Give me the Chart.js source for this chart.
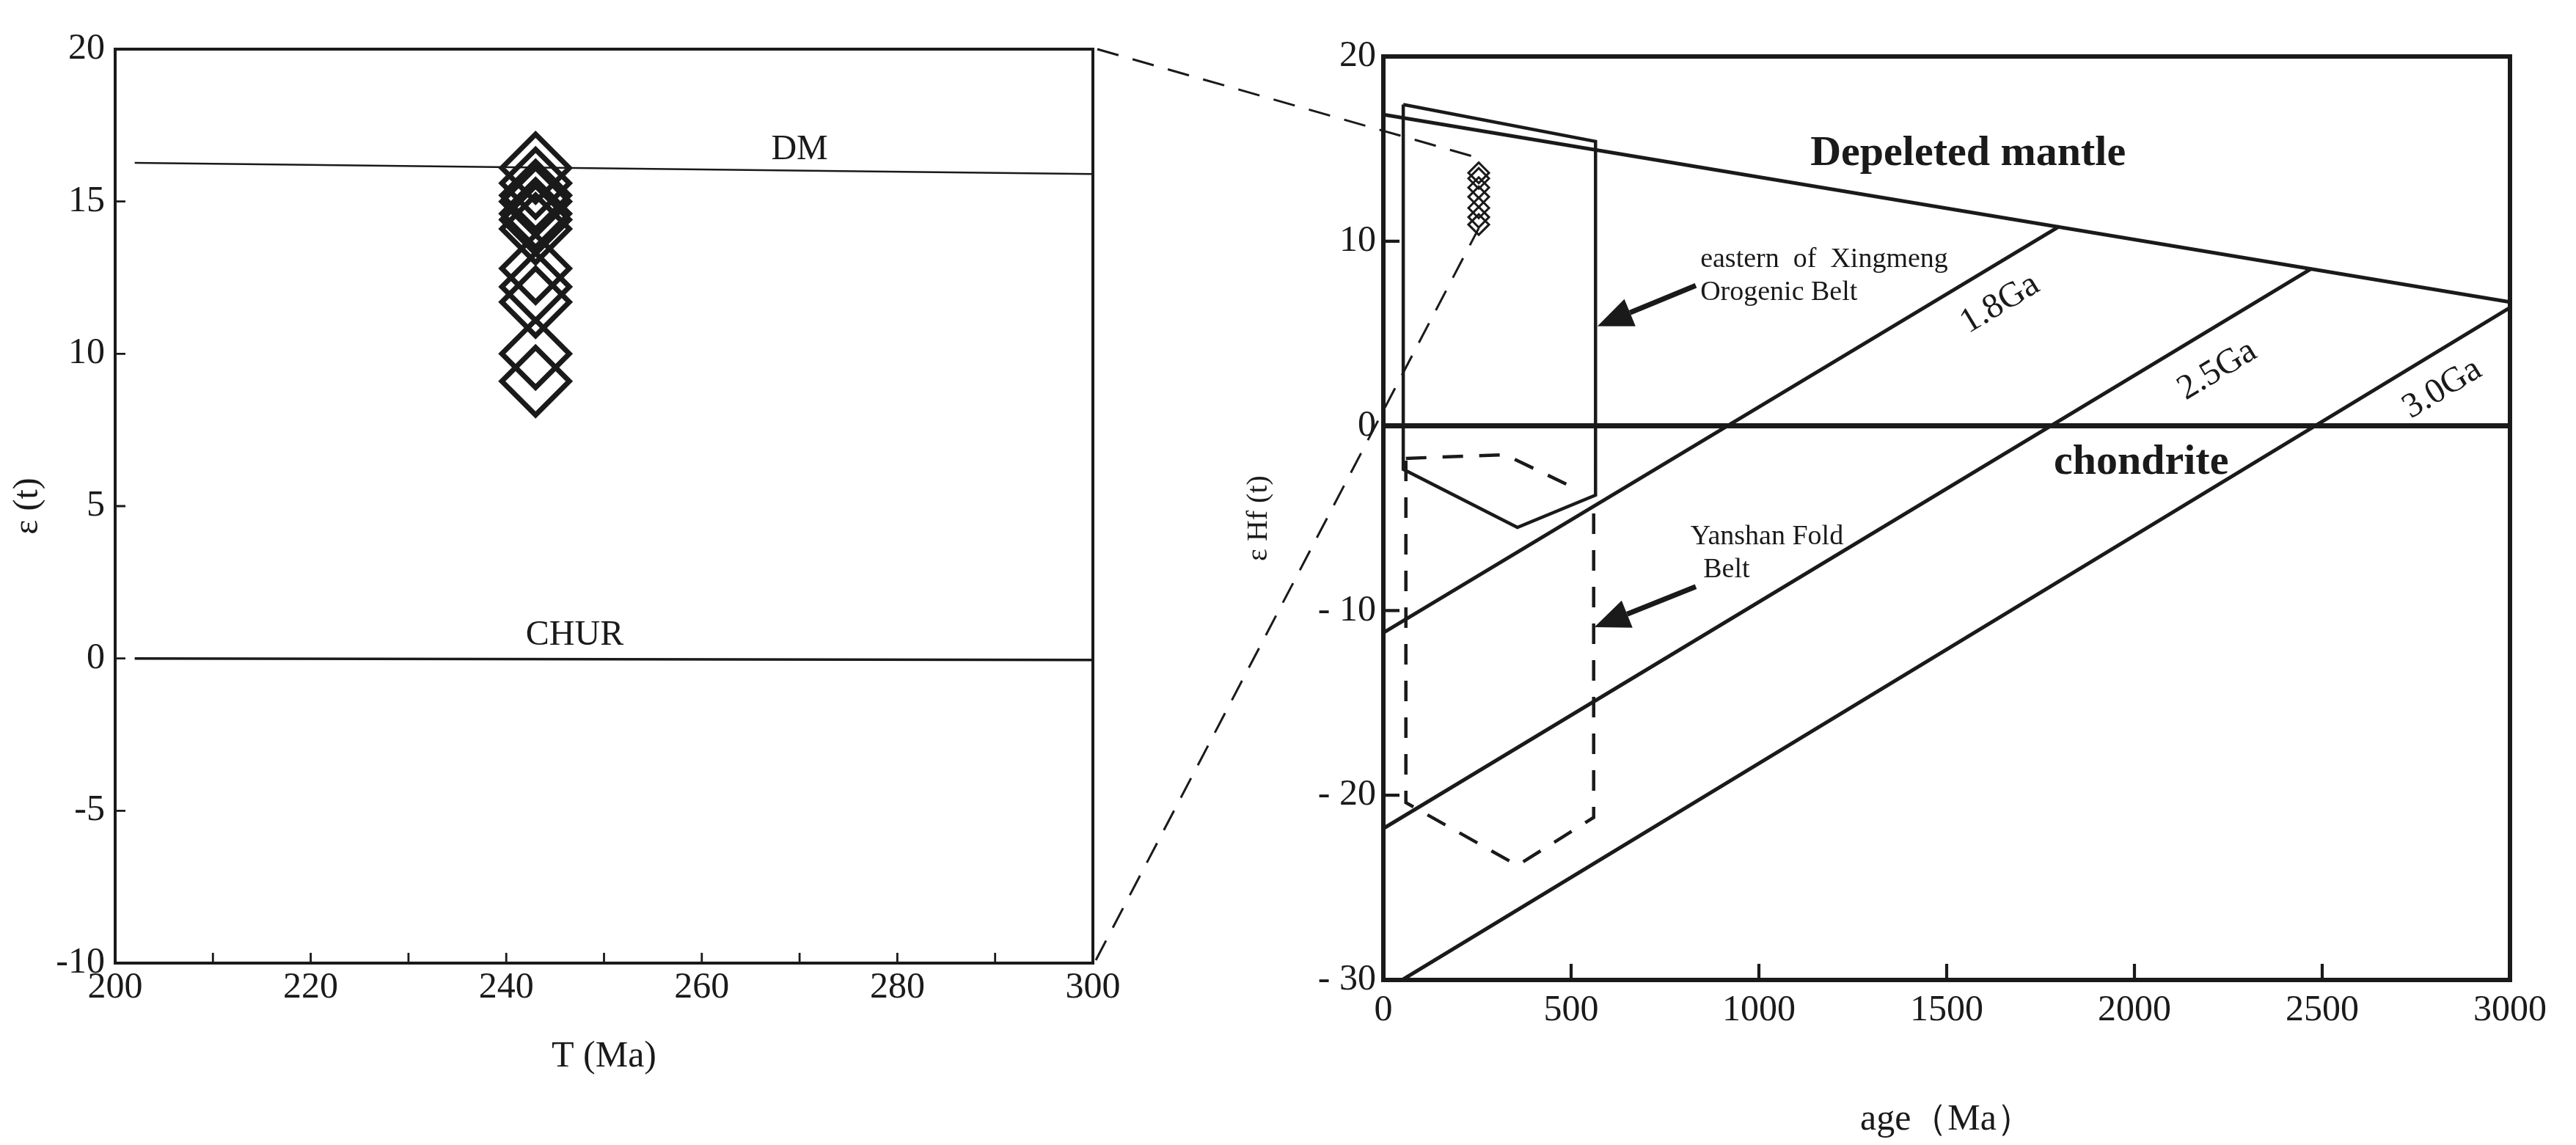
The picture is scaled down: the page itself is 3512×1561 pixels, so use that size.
<!DOCTYPE html>
<html>
<head>
<meta charset="utf-8">
<script src="https://cdn.jsdelivr.net/npm/chart.js@4/dist/chart.umd.min.js"></script>
<style>
  html, body { margin: 0; padding: 0; background: #fff; }
  #page { position: relative; width: 3512px; height: 1561px; overflow: hidden; }
  .box { position: absolute; top: 0; height: 1561px; }
  #overlay { position: absolute; left: 0; top: 0; pointer-events: none; }
</style>
</head>
<body>
<div id="page">
  <div class="box" style="left:0;width:1560px"><canvas id="leftChart"></canvas></div>
  <div class="box" style="left:1680px;width:1832px"><canvas id="rightChart"></canvas></div>
  <canvas id="overlay" width="3512" height="1561"></canvas>
</div>
<script>
// Left panel data: epsilon(t) vs T (Ma)
const leftSampleT = 243;
const leftSampleEps = [16.1, 15.6, 15.2, 15.0, 14.6, 14.4, 14.1, 12.8, 12.2, 11.7, 10.0, 9.1];
const leftDM = [[202, 16.27], [300, 15.9]];
const leftCHUR = [[202, 0], [300, -0.05]];
const leftXTicks = [200, 220, 240, 260, 280, 300];
const leftYTicks = [-10, -5, 0, 5, 10, 15, 20];

// Right panel data: eHf(t) vs age (Ma)
const rightSampleAge = 254;
const rightSampleEps = [13.7, 13.4, 12.9, 12.4, 11.8, 11.3, 10.9];
const depletedMantle = [[0, 16.85], [3000, 6.7]];
const chondrite = [[0, 0], [3000, 0]];
const crust18 = [[0, -11.2], [1800, 10.8]];
const crust25 = [[0, -21.8], [2470, 8.5]];
const crust30 = [[50, -30], [3000, 6.4]];
const xingmengBox = [[53, 17.4], [565, 15.4], [565, -3.75], [357, -5.5], [53, -2.35], [53, 17.4]];
const yanshanBox = [[60, -1.76], [324, -1.56], [487, -3.15], [null, null], [560, -4.74], [560, -21.2], [357, -23.8], [60, -20.4], [60, -1.76]];
const rightXTicks = [0, 500, 1000, 1500, 2000, 2500, 3000];
const rightYTicks = [-30, -20, -10, 0, 10, 20];

const SERIF = '"Liberation Serif", "DejaVu Serif", serif';
const INK = '#1a1a1a';

function pts(arr) { return arr.map(p => ({ x: p[0], y: p[1] })); }

function lineSet(data, width, dash) {
  return {
    type: 'line', data: pts(data), borderColor: INK, borderWidth: width,
    borderDash: dash || [], pointRadius: 0, fill: false, spanGaps: false
  };
}

// frame and inward tick marks
function framePlugin(xMinor, yMinor, tickLen, frameW) {
  return {
    id: 'frame',
    afterDraw(chart) {
      const { ctx, chartArea: a, scales } = chart;
      ctx.save();
      ctx.strokeStyle = INK;
      ctx.lineWidth = frameW;
      ctx.strokeRect(a.left, a.top, a.right - a.left, a.bottom - a.top);
      ctx.beginPath();
      for (let v = scales.x.min; v <= scales.x.max; v += xMinor) {
        const px = scales.x.getPixelForValue(v);
        ctx.moveTo(px, a.bottom); ctx.lineTo(px, a.bottom - tickLen);
      }
      for (let v = scales.y.min; v <= scales.y.max; v += yMinor) {
        const py = scales.y.getPixelForValue(v);
        ctx.moveTo(a.left, py); ctx.lineTo(a.left + tickLen, py);
      }
      ctx.lineWidth = frameW * 0.7;
      ctx.stroke();
      ctx.restore();
    }
  };
}

// text labels in data coordinates
function textPlugin(items) {
  return {
    id: 'texts',
    afterDatasetsDraw(chart) {
      const { ctx, scales } = chart;
      ctx.save();
      ctx.fillStyle = INK;
      items.forEach(t => {
        const x = scales.x.getPixelForValue(t.x);
        const y = scales.y.getPixelForValue(t.y);
        ctx.save();
        ctx.translate(x, y);
        if (t.along) {
          const dx = scales.x.getPixelForValue(t.along[1][0]) - scales.x.getPixelForValue(t.along[0][0]);
          const dy = scales.y.getPixelForValue(t.along[1][1]) - scales.y.getPixelForValue(t.along[0][1]);
          ctx.rotate(Math.atan2(dy, dx));
        }
        ctx.font = t.font;
        ctx.textAlign = t.align || 'center';
        ctx.textBaseline = 'middle';
        ctx.fillText(t.text, 0, 0);
        ctx.restore();
      });
      ctx.restore();
    }
  };
}

function arrowPlugin(arrows) {
  return {
    id: 'arrows',
    afterDatasetsDraw(chart) {
      const { ctx, scales } = chart;
      ctx.save();
      ctx.strokeStyle = INK; ctx.fillStyle = INK; ctx.lineWidth = 7;
      arrows.forEach(a => {
        const x0 = scales.x.getPixelForValue(a[0][0]), y0 = scales.y.getPixelForValue(a[0][1]);
        const x1 = scales.x.getPixelForValue(a[1][0]), y1 = scales.y.getPixelForValue(a[1][1]);
        const ang = Math.atan2(y1 - y0, x1 - x0);
        const hl = 48, hw = 20;
        const bx = x1 - hl * Math.cos(ang), by = y1 - hl * Math.sin(ang);
        ctx.beginPath(); ctx.moveTo(x0, y0); ctx.lineTo(bx, by); ctx.stroke();
        ctx.beginPath();
        ctx.moveTo(x1, y1);
        ctx.lineTo(bx + hw * Math.sin(ang), by - hw * Math.cos(ang));
        ctx.lineTo(bx - hw * Math.sin(ang), by + hw * Math.cos(ang));
        ctx.closePath(); ctx.fill();
      });
      ctx.restore();
    }
  };
}

function axisCommon(min, max, ticksList, fontSize, fmt) {
  return {
    type: 'linear', min: min, max: max,
    afterBuildTicks: s => { s.ticks = ticksList.map(v => ({ value: v })); },
    grid: { display: false, drawTicks: false },
    border: { display: false },
    ticks: { color: INK, font: { family: SERIF, size: fontSize }, callback: fmt || (v => v) }
  };
}

Chart.defaults.animation = false;

// ---- left chart
const lx = axisCommon(200, 300, leftXTicks, 50);
lx.afterFit = s => { s.height = 248; };
lx.ticks.padding = 4;
lx.title = { display: true, text: 'T (Ma)', color: INK, font: { family: SERIF, size: 50 }, padding: { top: 0, bottom: 90 } };
const ly = axisCommon(-10, 20, leftYTicks, 50);
ly.afterFit = s => { s.width = 157; };
ly.ticks.padding = 14;
ly.title = { display: true, text: 'ε (t)', color: INK, font: { family: SERIF, size: 48 }, padding: { top: 10, bottom: 0 } };

const leftChart = new Chart(document.getElementById('leftChart'), {
  type: 'scatter',
  data: {
    datasets: [
      lineSet(leftDM, 2.5),
      lineSet(leftCHUR, 3.5),
      {
        type: 'scatter', data: leftSampleEps.map(v => ({ x: leftSampleT, y: v })),
        pointStyle: 'rectRot', pointRadius: 46, borderWidth: 7,
        borderColor: INK, backgroundColor: 'rgba(0,0,0,0)'
      }
    ]
  },
  options: {
    responsive: true, maintainAspectRatio: false,
    layout: { padding: { top: 67, right: 70, bottom: 0, left: 0 } },
    plugins: { legend: { display: false }, tooltip: { enabled: false } },
    scales: { x: lx, y: ly }
  },
  plugins: [
    framePlugin(10, 5, 14, 4),
    textPlugin([
      { text: 'DM', x: 270, y: 16.7, font: '48px ' + SERIF },
      { text: 'CHUR', x: 247, y: 0.75, font: '48px ' + SERIF }
    ])
  ]
});

// ---- right chart
const rx = axisCommon(0, 3000, rightXTicks, 50);
rx.afterFit = s => { s.height = 225; };
rx.ticks.padding = 12;
rx.title = { display: true, text: 'age（Ma）', color: INK, font: { family: SERIF, size: 50 }, padding: { top: 0, bottom: 4 } };
const ry = axisCommon(-30, 20, rightYTicks, 50, v => (v < 0 ? '- ' + (-v) : v));
ry.afterFit = s => { s.width = 206; };
ry.ticks.padding = 10;
ry.title = { display: true, text: 'ε Hf (t)', color: INK, font: { family: SERIF, size: 40 }, padding: { top: 12, bottom: 0 } };

const rightChart = new Chart(document.getElementById('rightChart'), {
  type: 'scatter',
  data: {
    datasets: [
      lineSet(depletedMantle, 5),
      lineSet(chondrite, 7),
      lineSet(crust18, 5),
      lineSet(crust25, 5),
      lineSet(crust30, 5),
      lineSet(xingmengBox, 4.5),
      lineSet(yanshanBox, 4.5, [28, 22]),
      {
        type: 'scatter', data: rightSampleEps.map(v => ({ x: rightSampleAge, y: v })),
        pointStyle: 'rectRot', pointRadius: 14, borderWidth: 3,
        borderColor: INK, backgroundColor: 'rgba(0,0,0,0)'
      }
    ]
  },
  options: {
    responsive: true, maintainAspectRatio: false,
    layout: { padding: { top: 77, right: 90, bottom: 0, left: 0 } },
    plugins: { legend: { display: false }, tooltip: { enabled: false } },
    scales: { x: rx, y: ry }
  },
  plugins: [
    framePlugin(500, 10, 22, 6),
    textPlugin([
      { text: 'Depeleted mantle', x: 1557, y: 14.7, font: 'bold 58px ' + SERIF },
      { text: 'chondrite', x: 2018, y: -2.0, font: 'bold 58px ' + SERIF },
      { text: 'eastern  of  Xingmeng', x: 844, y: 9.0, font: '38px ' + SERIF, align: 'left' },
      { text: 'Orogenic Belt', x: 844, y: 7.2, font: '38px ' + SERIF, align: 'left' },
      { text: 'Yanshan Fold', x: 818, y: -6.0, font: '38px ' + SERIF, align: 'left' },
      { text: 'Belt', x: 852, y: -7.8, font: '38px ' + SERIF, align: 'left' },
      { text: '1.8Ga', x: 1642, y: 6.6, font: '48px ' + SERIF, along: crust18 },
      { text: '2.5Ga', x: 2221, y: 3.0, font: '48px ' + SERIF, along: crust25 },
      { text: '3.0Ga', x: 2820, y: 2.0, font: '48px ' + SERIF, along: crust30 }
    ]),
    arrowPlugin([
      [[832, 7.6], [570, 5.4]],
      [[832, -8.7], [562, -10.9]]
    ])
  ]
});

// dashed zoom lines joining the two panels
function drawLinks() {
  const ctx = document.getElementById('overlay').getContext('2d');
  const la = leftChart.chartArea;
  const rs = rightChart.scales;
  const off = 1680;
  const tx = off + rs.x.getPixelForValue(rightSampleAge);
  ctx.strokeStyle = INK; ctx.lineWidth = 3; ctx.setLineDash([30, 20]);
  ctx.beginPath();
  ctx.moveTo(la.right + 6, la.top);
  ctx.lineTo(tx, rs.y.getPixelForValue(14.5));
  ctx.moveTo(la.right + 4, la.bottom - 4);
  ctx.lineTo(tx, rs.y.getPixelForValue(10.7));
  ctx.stroke();
}
drawLinks();
</script>
</body>
</html>
